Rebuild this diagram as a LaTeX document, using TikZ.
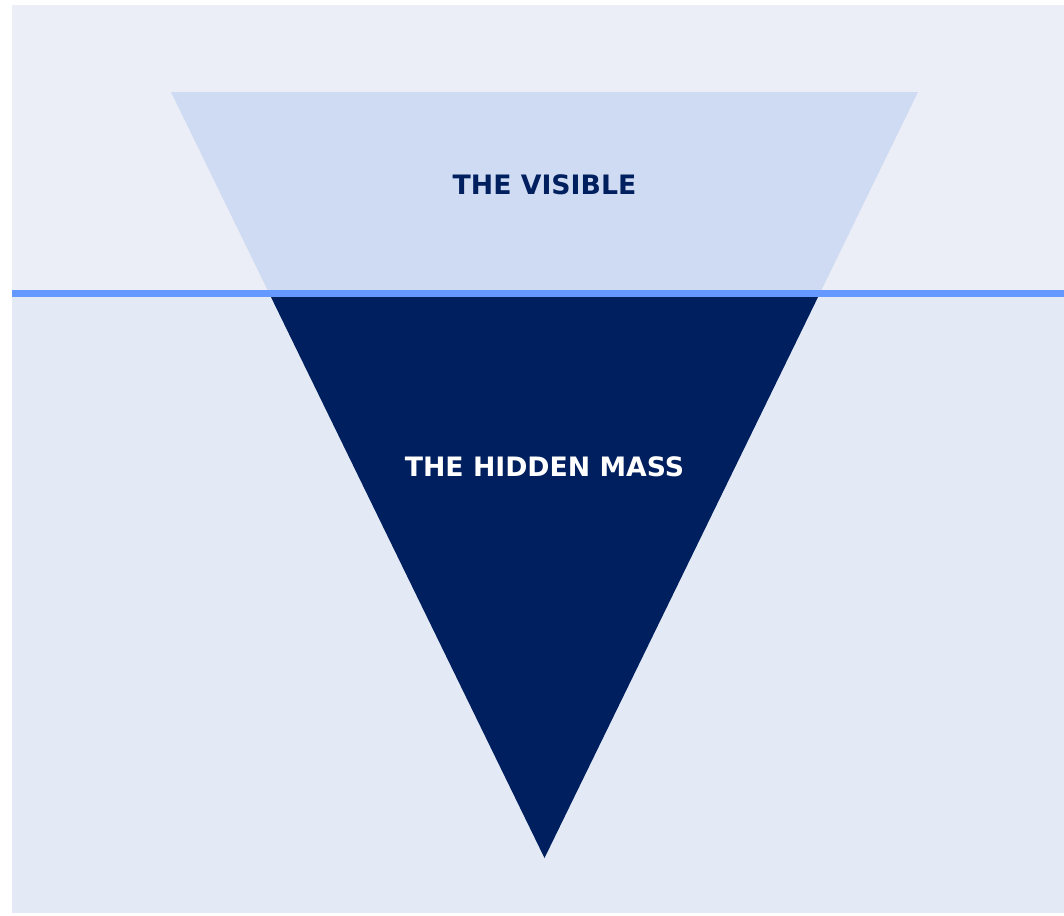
\documentclass[tikz,border=0pt]{standalone}
\usepackage{fontspec}
\setmainfont{DejaVu Sans}
\definecolor{skyband}{HTML}{EBEEF7}
\definecolor{seaband}{HTML}{E3EAF5}
\definecolor{waterline}{HTML}{6699FF}
\definecolor{tipfill}{HTML}{CFDBF2}
\definecolor{massfill}{HTML}{001F5F}
\begin{document}
\begin{tikzpicture}[
        x=0.025cm, y=-0.025cm,
        every node/.style={align=center},
        label/.style={font=\fontsize{19}{23}\selectfont\bfseries, inner sep=0pt},
    ]
    \useasboundingbox (0,0) rectangle (1064,915);

    % --- Background: above and below the waterline -------------------------
    \fill[skyband] (12,5) rectangle (1064,293);
    \fill[seaband] (12,293) rectangle (1064,913);

    % --- Inverted triangle: visible tip above, hidden mass below -----------
    \coordinate (tl)   at (171,92);
    \coordinate (tr)   at (918,92);
    \coordinate (apex) at (544.5,858);
    \begin{scope}
        \clip (0,0) rectangle (1064,293.5);
        \fill[tipfill] (tl) -- (tr) -- (apex) -- cycle;
    \end{scope}
    \begin{scope}
        \clip (0,293.5) rectangle (1064,915);
        \fill[massfill] (tl) -- (tr) -- (apex) -- cycle;
    \end{scope}

    % --- Waterline ------------------------------------------------------------
    \draw[waterline, line width=5pt] (12,293.5) -- (1064,293.5);

    % --- Labels -----------------------------------------------------------------
    \node[label, text=massfill] (visible) at (544.5,185) {THE VISIBLE};
    \node[label, text=white]    (hidden)  at (544.5,467) {THE HIDDEN MASS};

\end{tikzpicture}
\end{document}
